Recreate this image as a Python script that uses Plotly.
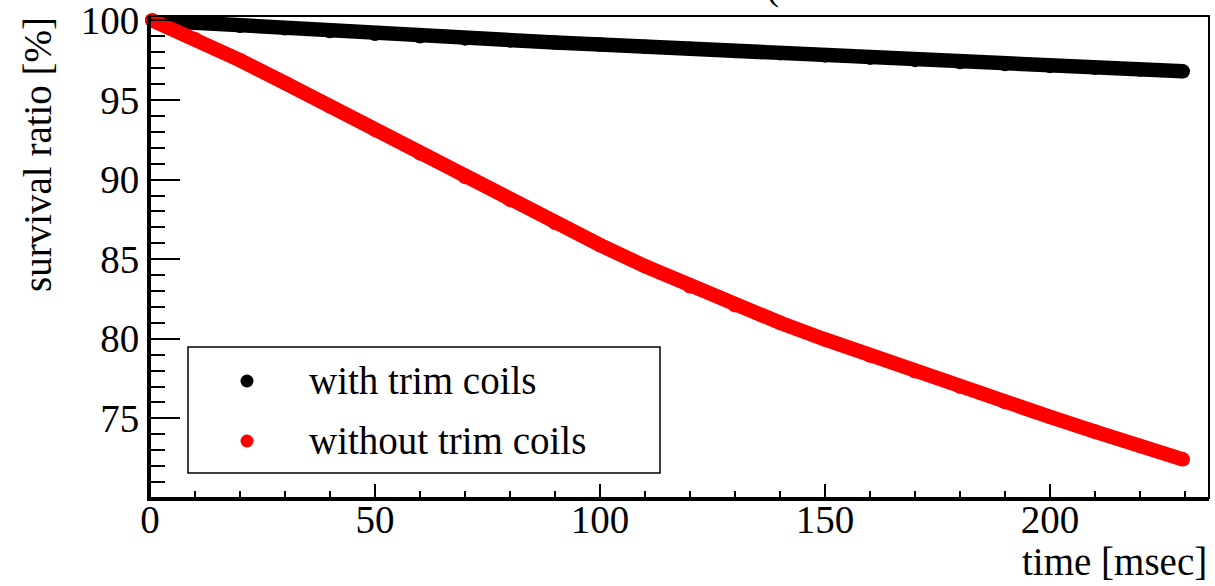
import plotly.graph_objects as go

# Survival ratio of the stored beam versus time, sampled every 10 ms
time_ms = [0.5, 10, 20, 30, 40, 50, 60, 70, 80, 90, 100, 110, 120,
           130, 140, 150, 160, 170, 180, 190, 200, 210, 220, 229.5]
with_trim = [100.0, 99.83, 99.66, 99.5, 99.33, 99.16, 99.0, 98.87, 98.74, 98.61,
             98.48, 98.35, 98.22, 98.08, 97.94, 97.8, 97.66, 97.52, 97.38, 97.26,
             97.14, 97.03, 96.91, 96.8]
without_trim = [100.0, 98.82, 97.5, 96.07, 94.6, 93.12, 91.64, 90.17, 88.72, 87.28,
                85.89, 84.56, 83.3, 82.11, 81.01, 79.96, 78.95, 77.96, 76.99, 76.03,
                75.09, 74.17, 73.27, 72.43]

series_names = ["with trim coils", "without trim coils"]
series_colors = ["#000000", "#ff0000"]
series_values = [with_trim, without_trim]

x_ticks = [0, 50, 100, 150, 200]
y_ticks = [75, 80, 85, 90, 95, 100]

FONT = "Liberation Serif"
FS = 39

# plot-area geometry in pixels (figure is 1215 x 586)
L, R, T, B = 150, 1209, 16, 498
PW, PH = R - L, B - T


def px(xp):
    return (xp - L) / PW


def py(yp):
    return (B - yp) / PH


fig = go.Figure()
for name, color, vals in zip(series_names, series_colors, series_values):
    fig.add_trace(go.Scatter(
        x=time_ms, y=vals, name=name, mode="lines+markers",
        line=dict(color=color, width=14.5),
        marker=dict(color=color, size=14.5, line=dict(width=0)),
        cliponaxis=False, showlegend=False,
    ))

axis_common = dict(
    showgrid=False, zeroline=False, automargin=False,
    showline=True, linecolor="black", linewidth=3,
    ticks="inside", tickcolor="black", tickwidth=2,
    ticklabeloverflow="allow",
    tickfont=dict(family=FONT, size=FS, color="black"),
)

fig.update_xaxes(
    range=[0, PW / 4.5], tickvals=x_ticks, ticklen=14,
    ticklabelstandoff=-15,
    minor=dict(ticks="inside", ticklen=7, tickwidth=2, tickcolor="black",
               tickmode="linear", tick0=0, dtick=10),
    **axis_common,
)
fig.update_yaxes(
    range=[70, 70 + PH / 15.92], tickvals=y_ticks, ticklen=30,
    ticklabelstandoff=0,
    minor=dict(ticks="inside", ticklen=15, tickwidth=2, tickcolor="black",
               tickmode="linear", tick0=70, dtick=1),
    **axis_common,
)

shapes = [
    # frame around the plot area
    dict(type="rect", xref="paper", yref="paper", x0=0, x1=1, y0=0, y1=1,
         line=dict(color="black", width=2), layer="above"),
    # legend box
    dict(type="rect", xref="paper", yref="paper",
         x0=px(188), x1=px(660), y0=py(473), y1=py(347),
         line=dict(color="black", width=1.5), fillcolor="white", layer="above"),
]
annotations = [
    dict(text="survival ratio [%]", xref="paper", yref="paper",
         x=px(37), y=py(155), xanchor="center", yanchor="middle",
         textangle=-90, showarrow=False,
         font=dict(family=FONT, size=FS, color="black")),
    dict(text="time [msec]", xref="paper", yref="paper",
         x=px(1209), y=py(561), xanchor="right", yanchor="middle",
         showarrow=False, font=dict(family=FONT, size=FS, color="black")),
    # tail of the title line, clipped by the top edge of the page
    dict(text="(", xref="paper", yref="paper",
         x=px(772), y=py(9.5), xanchor="center", yanchor="bottom",
         showarrow=False, font=dict(family=FONT, size=FS, color="black")),
]

# legend entries: marker dot + label
for i, (name, color) in enumerate(zip(series_names, series_colors)):
    cy = 381 + 60 * i
    shapes.append(dict(
        type="circle", xref="paper", yref="paper",
        xsizemode="pixel", ysizemode="pixel",
        xanchor=px(247), yanchor=py(cy),
        x0=-6.5, x1=6.5, y0=-6.5, y1=6.5,
        fillcolor=color, line=dict(width=0), layer="above"))
    annotations.append(dict(
        text=name, xref="paper", yref="paper",
        x=px(307), y=py(cy - 1), xanchor="left", yanchor="middle",
        showarrow=False, font=dict(family=FONT, size=FS, color="black")))

fig.update_layout(
    template="none",
    width=1215, height=586,
    margin=dict(l=L, r=1215 - R, t=T, b=586 - B, autoexpand=False),
    paper_bgcolor="white", plot_bgcolor="white",
    font=dict(family=FONT, size=FS, color="black"),
    shapes=shapes, annotations=annotations,
    showlegend=False,
)

fig.write_html("out.html", config={"displayModeBar": False})
